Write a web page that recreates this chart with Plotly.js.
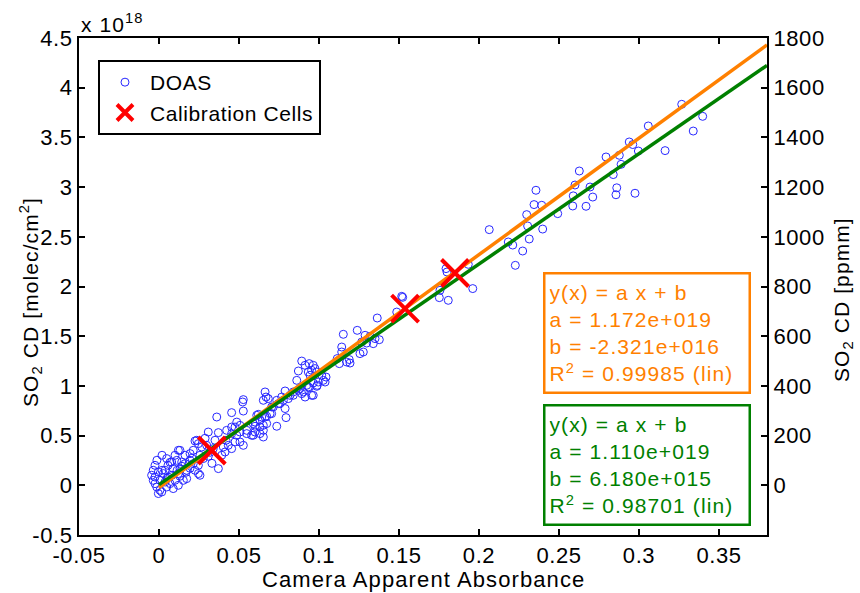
<!DOCTYPE html>
<html>
<head>
<meta charset="utf-8">
<script src="https://cdn.plot.ly/plotly-3.0.1.min.js"></script>
<style>
html,body{margin:0;padding:0;background:#fff;}
#chart{width:860px;height:593px;}
text{letter-spacing:0.6px;}
text.annotation-text{letter-spacing:1.1px;}
</style>
</head>
<body>
<div id="chart"></div>
<script>
// DOAS measurements: camera apparent absorbance vs SO2 CD (units of 1e18 molec/cm^2)
const doasX = [
0.3267,0.3398,0.3339,0.3163,0.3058,0.2939,0.2961,0.2996,0.2877,0.2794,
0.2888,0.2839,0.2861,0.2856,0.2975,0.2627,0.2600,0.2694,0.2711,0.2589,
0.2669,0.2586,0.2492,0.2356,0.2344,0.2392,0.2298,0.2304,0.2398,0.2314,
0.2211,0.2183,0.2273,0.2227,0.2064,0.1933,0.1794,0.1800,0.1961,0.1756,
0.1752,0.1808,0.1517,0.1523,0.1486,0.1364,0.1239,0.1152,0.1288,0.1319,
0.1350,0.1267,0.1298,0.1377,0.1339,0.1142,0.1142,0.1277,0.1256,0.1189,
0.1194,0.1173,0.1114,0.1127,0.0892,0.0913,0.0939,0.0964,0.0954,0.0933,
0.0975,0.0986,0.0944,0.0871,0.0861,0.1017,0.1027,0.1044,0.0996,0.0964,
0.0986,0.0923,0.0939,0.0881,0.0892,0.0954,0.0913,0.0839,0.0819,0.0788,
0.0767,0.0736,0.0746,0.0788,0.0704,0.0663,0.0683,0.0652,0.0704,0.0794,
0.0736,0.0673,0.0631,0.0611,0.0589,0.0631,0.0652,0.0600,0.0527,0.0669,
0.0523,0.0454,0.0527,0.0361,0.0621,0.0642,0.0600,0.0486,0.0506,0.0475,
0.0454,0.0308,0.0371,0.0423,0.0454,0.0486,0.0506,0.0548,0.0579,0.0600,
0.0631,0.0652,0.0652,0.0673,0.0225,0.0246,0.0298,0.0402,0.0433,0.0454,
0.0413,0.0392,0.0506,0.0527,0.0131,0.0194,0.0214,0.0267,0.0256,0.0277,
0.0308,0.0339,0.0048,0.0079,0.0111,0.0142,0.0163,0.0194,0.0214,0.0246,
0.0225,0.0173,0.0131,0.0121,0.0089,0.0371,-0.0025,-0.0036,-0.0004,-0.0025,
0.0006,0.0027,0.0058,0.0038,-0.0014,0.0006,-0.0036,-0.0046,0.0069,0.0100,
0.0121,0.0152,0.0173,0.0089,0.0048,-0.0004,0.0017,-0.0025,0.0236,0.0121,
0.0246,0.0256,0.0548,0.0589,0.0475,0.0714,0.0756,0.0777,0.0808,0.0839,
0.0871,0.0902,0.0933,0.0964,0.0989,0.1038,0.0694,0.0663,0.0019,0.0056,
0.0081,0.0113,0.0144,0.0169,0.0194,0.0050,0.0131,0.0206,0.0100,0.0163,
0.0069,-0.0013,0.0019,0.0038,0.0319,0.0350,0.0288,0.0331,0.0419
];
const doasY = [
3.833,3.712,3.564,3.367,3.615,3.454,3.428,3.363,3.320,3.303,
3.229,3.126,2.993,2.923,2.938,3.162,3.021,3.001,2.900,2.912,
2.807,2.810,2.733,2.968,2.824,2.817,2.723,2.609,2.578,2.478,
2.417,2.448,2.357,2.213,2.572,2.223,2.180,2.146,1.979,1.962,
1.888,1.861,1.901,1.891,1.743,1.683,1.559,1.519,1.509,1.499,
1.476,1.442,1.431,1.465,1.425,1.391,1.341,1.341,1.325,1.265,
1.230,1.240,1.275,1.224,1.250,1.207,1.224,1.207,1.157,1.140,
1.174,1.140,1.107,1.150,1.056,1.107,1.056,1.089,1.039,1.029,
0.996,1.006,0.983,0.973,0.922,0.905,0.888,0.939,0.905,0.949,
0.888,0.855,0.822,0.772,0.788,0.939,0.872,0.855,0.721,0.681,
0.594,0.694,0.654,0.704,0.621,0.587,0.604,0.594,0.862,0.888,
0.838,0.731,0.747,0.687,0.714,0.687,0.636,0.636,0.603,0.586,
0.586,0.536,0.530,0.553,0.520,0.503,0.536,0.520,0.503,0.536,
0.520,0.553,0.486,0.621,0.446,0.419,0.402,0.385,0.402,0.369,
0.335,0.302,0.436,0.402,0.352,0.319,0.352,0.385,0.302,0.269,
0.292,0.369,0.269,0.234,0.251,0.234,0.218,0.251,0.218,0.201,
0.151,0.151,0.168,0.118,0.168,0.168,0.201,0.151,0.134,0.083,
0.050,0.118,0.083,0.033,-0.017,-0.050,0.050,0.101,0.017,0.050,
0.000,0.050,0.067,-0.033,-0.017,-0.083,-0.067,0.017,0.453,0.352,
0.118,0.101,0.553,0.503,0.436,0.788,0.822,0.855,0.872,0.905,
0.956,0.939,0.989,0.905,1.006,1.039,0.721,0.687,0.151,0.201,
0.101,0.151,0.191,0.131,0.171,0.070,0.091,0.272,0.302,0.302,
0.231,0.252,0.302,0.151,0.332,0.453,0.473,0.221,0.453
];
// Calibration cells
const calX = [0.033, 0.1538, 0.185];
const calY = [0.35, 1.778, 2.136];
// Fit lines (endpoints)
const fitX = [0, 0.38];
const fitOrangeY = [-0.0232, 4.4304];
const fitGreenY = [0.0062, 4.2242];
// Ticks
const xTickVals = [-0.05, 0, 0.05, 0.1, 0.15, 0.2, 0.25, 0.3, 0.35];
const xTickText = ['-0.05', '0', '0.05', '0.1', '0.15', '0.2', '0.25', '0.3', '0.35'];
const yTickVals = [-0.5, 0, 0.5, 1, 1.5, 2, 2.5, 3, 3.5, 4, 4.5];
const yTickText = ['-0.5', '0', '0.5', '1', '1.5', '2', '2.5', '3', '3.5', '4', '4.5'];
const y2TickVals = [0, 200, 400, 600, 800, 1000, 1200, 1400, 1600, 1800];
const y2TickText = ['0', '200', '400', '600', '800', '1000', '1200', '1400', '1600', '1800'];
const orangeText = 'y(x) = a x + b<br>a = 1.172e+019<br>b = -2.321e+016<br>R<sup>2</sup> = 0.99985 (lin)';
const greenText = 'y(x) = a x + b<br>a = 1.110e+019<br>b = 6.180e+015<br>R<sup>2</sup> = 0.98701 (lin)';

const FONT = 'Liberation Sans, Arial, Helvetica, sans-serif';
const ORANGE = 'rgb(255,128,0)';
const GREEN = 'rgb(0,128,0)';

const traces = [
  {x: doasX, y: doasY, type: 'scatter', mode: 'markers', name: 'DOAS',
   marker: {symbol: 'circle-open', size: 8, color: 'rgb(40,40,255)', line: {width: 1, color: 'rgb(40,40,255)'}}},
  {x: fitX, y: fitOrangeY, type: 'scatter', mode: 'lines', showlegend: false,
   line: {color: ORANGE, width: 3.5}},
  {x: fitX, y: fitGreenY, type: 'scatter', mode: 'lines', showlegend: false,
   line: {color: GREEN, width: 3.5}},
  {x: calX, y: calY, type: 'scatter', mode: 'markers', name: 'Calibration Cells',
   marker: {symbol: 'x-thin', size: 27, color: 'red', line: {width: 4, color: 'rgb(255,0,0)'}}},
  {x: [null], y: [null], yaxis: 'y2', type: 'scatter', mode: 'markers', showlegend: false, hoverinfo: 'skip'}
];

const axisCommon = {
  showline: true, linecolor: 'black', linewidth: 2,
  ticks: 'inside', ticklen: 6, tickwidth: 2, tickcolor: 'black',
  showgrid: false, zeroline: false,
  tickfont: {family: FONT, size: 22, color: 'black'}
};

const layout = {
  width: 860, height: 593,
  margin: {l: 79, r: 93, t: 38, b: 58},
  paper_bgcolor: 'white', plot_bgcolor: 'white',
  font: {family: FONT, size: 22, color: 'black'},
  showlegend: true,
  legend: {x: 0.0276, y: 0.9557, xanchor: 'left', yanchor: 'top', itemwidth: 40,
           bgcolor: 'white', bordercolor: 'black', borderwidth: 2,
           font: {family: FONT, size: 21, color: 'black'}},
  xaxis: Object.assign({}, axisCommon, {
    range: [-0.05, 0.38], tickmode: 'array', tickvals: xTickVals, ticktext: xTickText,
    mirror: 'ticks'
  }),
  yaxis: Object.assign({}, axisCommon, {
    range: [-0.5, 4.5], tickmode: 'array', tickvals: yTickVals, ticktext: yTickText,
    mirror: 'ticks'
  }),
  yaxis2: Object.assign({}, axisCommon, {
    range: [-200, 1800], tickmode: 'array', tickvals: y2TickVals, ticktext: y2TickText,
    overlaying: 'y', side: 'right', anchor: 'x'
  }),
  annotations: [
    {text: 'Camera Apparent Absorbance', xref: 'paper', yref: 'paper', x: 0.5, y: -0.09,
     xanchor: 'center', yanchor: 'middle', showarrow: false,
     font: {family: FONT, size: 22, color: 'black'}},
    {text: 'SO<sub>2</sub> CD [molec/cm<sup>2</sup>]', xref: 'paper', yref: 'paper', x: -0.0712, y: 0.4688,
     xanchor: 'center', yanchor: 'middle', textangle: -90, showarrow: false,
     font: {family: FONT, size: 21, color: 'black'}},
    {text: 'SO<sub>2</sub> CD [ppmm]', xref: 'paper', yref: 'paper', x: 1.1105, y: 0.4728,
     xanchor: 'center', yanchor: 'middle', textangle: -90, showarrow: false,
     font: {family: FONT, size: 21, color: 'black'}},
    {text: 'x 10<sup>18</sup>', xref: 'paper', yref: 'paper', x: 0, y: 1, xanchor: 'left', yanchor: 'bottom',
     showarrow: false, font: {family: FONT, size: 21, color: 'black'}},
    {text: orangeText, xref: 'paper', yref: 'paper', x: 0.825, y: 0.4074, xanchor: 'center', yanchor: 'middle',
     showarrow: false, align: 'left', valign: 'middle', width: 195, height: 109,
     bgcolor: 'white', bordercolor: ORANGE, borderwidth: 2.5, borderpad: 4,
     font: {family: FONT, size: 21, color: ORANGE}},
    {text: greenText, xref: 'paper', yref: 'paper', x: 0.825, y: 0.1408, xanchor: 'center', yanchor: 'middle',
     showarrow: false, align: 'left', valign: 'middle', width: 195, height: 109,
     bgcolor: 'white', bordercolor: GREEN, borderwidth: 2.5, borderpad: 4,
     font: {family: FONT, size: 21, color: GREEN}}
  ]
};

Plotly.newPlot('chart', traces, layout, {displayModeBar: false, staticPlot: true});
</script>
</body>
</html>
